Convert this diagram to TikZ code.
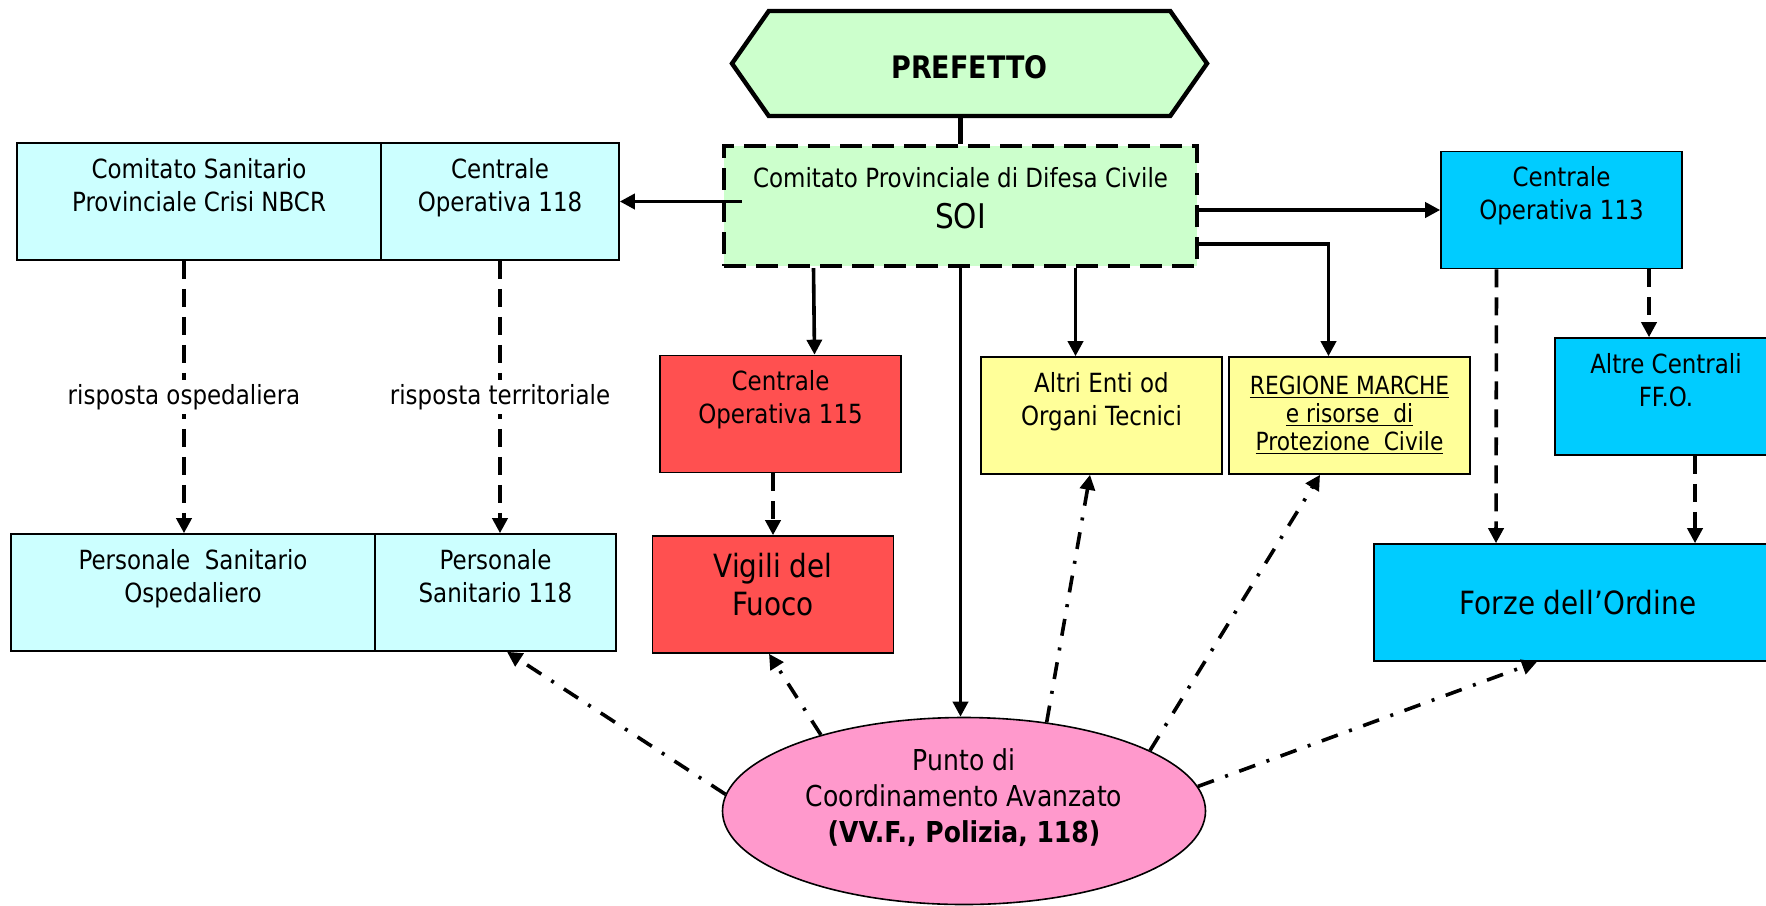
\documentclass[tikz,border=0pt]{standalone}
\usepackage{fontspec}
\setmainfont{DejaVu Sans}[FakeStretch=0.87]
\usetikzlibrary{arrows.meta,calc,shapes.geometric,shapes.symbols}

\definecolor{verdino}{RGB}{204,255,204}
\definecolor{azzurrino}{RGB}{204,255,255}
\definecolor{rosso}{RGB}{255,80,80}
\definecolor{giallino}{RGB}{255,255,153}
\definecolor{celeste}{RGB}{0,204,255}
\definecolor{rosa}{RGB}{255,153,204}

% strut that pushes the text of a box upwards
\newcommand{\lift}[1]{\rule[-#1]{0pt}{0pt}}

\tikzset{
  box/.style={draw, line width=0.8pt, minimum width=120.5pt, minimum height=58.5pt,
    inner sep=1pt, align=center, font=\fontsize{13.2}{16.5}\selectfont},
  lbl/.style={fill=white, inner sep=2pt, font=\fontsize{13.2}{16.5}\selectfont},
  arr/.style={-{Triangle[length=7.5pt,width=7.5pt]}, line width=1.8pt},
  dasharr/.style={arr, dash pattern=on 9pt off 5pt},
  dotarr/.style={arr, dash pattern=on 8.5pt off 6pt on 1.5pt off 6pt},
}

\begin{document}
\begin{tikzpicture}[x=0.5pt,y=-0.5pt]
\clip (0,0) rectangle (1766,905);

%Prefetto and SOI
\node[draw, shape=signal, signal to=west and east, signal pointer angle=110, fill=verdino,
  line width=2.2pt, minimum width=237.5pt, minimum height=52.5pt,
  font=\fontsize{15.5}{18}\selectfont\bfseries] (prefetto) at (969.5,63.5) {\rule{0pt}{15pt}PREFETTO};
\node[box, fill=verdino, line width=2.2pt, dash pattern=on 11pt off 5pt,
  minimum width=236.5pt, minimum height=60pt] (soi) at (960.5,206)
  {Comitato Provinciale di Difesa Civile\\[4pt]{\fontsize{17}{20}\selectfont SOI}\lift{8pt}};

%Sanita'
\node[box, fill=azzurrino, minimum width=182pt] (csp) at (199,201.5) {Comitato Sanitario\\Provinciale Crisi NBCR\lift{17pt}};
\node[box, fill=azzurrino, minimum width=119pt] (co118) at (500,201.5) {Centrale\\Operativa 118\lift{17pt}};
\node[box, fill=azzurrino, minimum width=182pt] (pso) at (193,592.5) {Personale\ \ Sanitario\\Ospedaliero\lift{17pt}};
\node[box, fill=azzurrino] (ps118) at (495.5,592.5) {Personale\\Sanitario 118\lift{17pt}};

%Vigili del Fuoco
\node[box, fill=rosso] (co115) at (780.5,414) {Centrale\\Operativa 115\lift{17pt}};
\node[box, fill=rosso, font=\fontsize{16}{19}\selectfont] (vvf) at (773,594.5) {Vigili del\\Fuoco\lift{10pt}};

%Enti
\node[box, fill=giallino] (altri) at (1101.5,415.5) {Altri Enti od\\Organi Tecnici\lift{17pt}};
\node[box, fill=giallino, font=\fontsize{12.5}{14}\selectfont] (regione) at (1349.5,415.5)
  {\underline{REGIONE MARCHE}\\\underline{e risorse\ \ di}\\\underline{Protezione\ \ Civile}};

%Forze dell'Ordine
\node[box, fill=celeste] (co113) at (1561.5,210) {Centrale\\Operativa 113\lift{17pt}};
\node[box, fill=celeste, minimum width=111pt] (altre) at (1666,396.5) {Altre Centrali\\FF.O.\lift{17pt}};
\node[box, fill=celeste, minimum width=204pt, font=\fontsize{16}{19}\selectfont] (forze) at (1578,602.5) {Forze dell’Ordine};

%PCA
\node[draw, ellipse, fill=rosa, line width=0.8pt, inner sep=0pt, minimum width=241.5pt, minimum height=93.5pt,
  align=center, font=\fontsize{14.4}{18}\selectfont] (pca) at (964,811)
  {Punto di\\Coordinamento Avanzato\\\textbf{(VV.F., Polizia, 118)}\lift{15pt}};

%links from SOI
\draw[line width=2.2pt] (soi.north) -- (soi.north |- prefetto.south);
\draw[arr] ($(co118.east -| soi.west)+(20,0)$) -- (co118.east);
\draw[arr] (soi.east |- co113.west) -- (co113.west);
\draw[arr] ($(soi.east)+(0,38)$) -| ($(regione.north)+(-21,0)$);
\draw[arr] ($(soi.south)+(-147,0)$) -- ($(co115.north)+(34,0)$);
\draw[arr] ($(soi.south)+(115,0)$) -- ($(altri.north)+(-26,0)$);
\draw[arr] (soi.south) -- (soi.south |- pca.north);

%dashed links
\draw[dasharr] ($(csp.south)+(-15,0)$) -- node[lbl] (rosp) {risposta ospedaliera} ($(pso.north)+(-9,0)$);
\draw[dasharr] (co118.south) -- node[lbl] (rter) {risposta territoriale} (co118.south |- ps118.north);
\draw[dasharr] (vvf.north |- co115.south) -- (vvf.north);
\draw[dasharr] ($(co113.south)+(-65,0)$) -- ($(forze.north)+(-82,0)$);
\draw[dasharr] ($(co113.south)+(87.5,0)$) -- ($(altre.north)+(-17,0)$);
\draw[dasharr] ($(altre.south)+(29,0)$) -- ($(forze.north)+(117,0)$);

%from PCA
\draw[dotarr] (pca.176) -- ($(ps118.south)+(11.5,0)$);
\draw[dotarr] (pca.152) -- ($(vvf.south)+(-4,0)$);
\draw[dotarr] (pca.47) -- ($(altri.south)+(-11.5,0)$);
\draw[dotarr] (pca.18) -- ($(regione.south)+(-29.5,0)$);
\draw[dotarr] (pca.6) -- ($(forze.south)+(-41,0)$);

\end{tikzpicture}
\end{document}
